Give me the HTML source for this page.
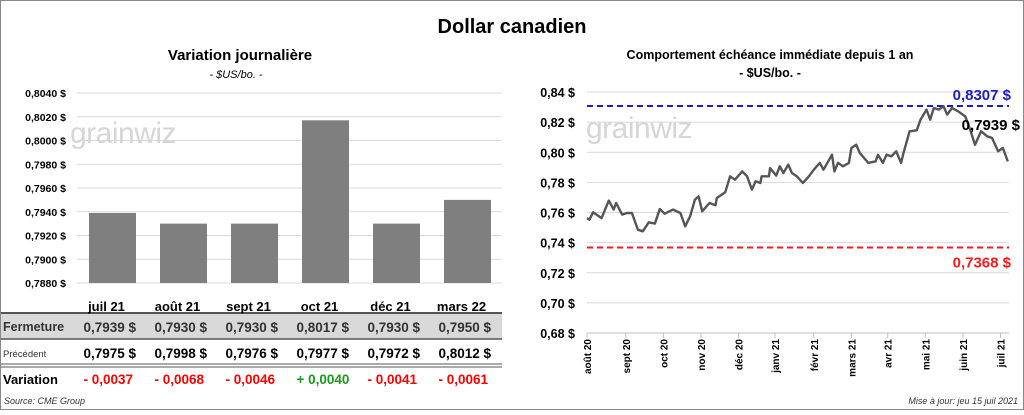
<!DOCTYPE html>
<html><head><meta charset="utf-8">
<style>
html,body{margin:0;padding:0;background:#fff;}
body{width:1024px;height:410px;overflow:hidden;font-family:"Liberation Sans",sans-serif;}
svg text{font-family:"Liberation Sans",sans-serif;}
</style></head>
<body>
<svg id="root" width="1024" height="410" viewBox="0 0 1024 410" xmlns="http://www.w3.org/2000/svg">
<rect x="0.5" y="0.5" width="1023" height="409" fill="#fff" stroke="#888"/>
<text x="512" y="33" text-anchor="middle" font-size="20" font-weight="bold">Dollar canadien</text>
<text x="240" y="60" text-anchor="middle" font-size="15" font-weight="bold">Variation  journalière</text>
<text x="236" y="78" text-anchor="middle" font-size="11" font-style="italic">- $US/bo. -</text>
<text x="770" y="59" text-anchor="middle" font-size="12.5" font-weight="bold">Comportement échéance immédiate depuis 1 an</text>
<text x="770" y="77" text-anchor="middle" font-size="12.5" font-weight="bold">- $US/bo. -</text>
<g id="left"></g>
<g id="table"></g>
<g id="right"></g>
<text x="4" y="404" font-size="9" font-style="italic" fill="#333">Source: CME Group</text>
<text x="1018" y="404" text-anchor="end" font-size="9" font-style="italic" fill="#333">Mise à jour: jeu 15 juil 2021</text>
</svg>
<script>
const NS="http://www.w3.org/2000/svg";
const barCategories=["juil 21","août 21","sept 21","oct 21","déc 21","mars 22"];
const barValues=[0.7939,0.7930,0.7930,0.8017,0.7930,0.7950];
const prevValues=[0.7975,0.7998,0.7976,0.7977,0.7972,0.8012];
const variationLabels=["- 0,0037","- 0,0068","- 0,0046","+ 0,0040","- 0,0041","- 0,0061"];
const barTicks=[0.788,0.790,0.792,0.794,0.796,0.798,0.800,0.802,0.804];
const lineDays=[0,2,5,12,18,22,24,29,33,37,42,46,51,56,60,64,71,77,81,85,89,92,95,101,106,107,114,118,122,128,132,136,139,143,144,150,151,156,159,162,166,169,173,178,183,187,192,195,202,204,207,211,216,218,222,225,232,238,240,244,247,251,255,259,261,266,272,275,280,283,286,290,294,297,301,306,312,316,320,325,330,334,339,343,347];
const lineValues=[0.7563,0.7552,0.7601,0.7563,0.7679,0.7619,0.7663,0.7586,0.7597,0.7597,0.7486,0.7475,0.7535,0.7526,0.7623,0.7592,0.7619,0.7597,0.7508,0.7575,0.7685,0.7707,0.7608,0.7663,0.7648,0.7696,0.7734,0.7840,0.7818,0.7873,0.7840,0.7752,0.7807,0.7796,0.7840,0.7840,0.7895,0.7845,0.7907,0.7862,0.7918,0.7862,0.7840,0.7796,0.7840,0.7884,0.7929,0.7884,0.7984,0.7873,0.7929,0.7907,0.7929,0.8028,0.8050,0.7995,0.7929,0.7940,0.7984,0.7929,0.7984,0.7973,0.8006,0.7929,0.7995,0.8139,0.8146,0.8216,0.8283,0.8216,0.8294,0.8283,0.8305,0.8250,0.8294,0.8272,0.8238,0.8150,0.8050,0.8139,0.8106,0.8095,0.8006,0.8028,0.7939];
const monthLabels=["août 20","sept 20","oct 20","nov 20","déc 20","janv 21","févr 21","mars 21","avr 21","mai 21","juin 21","juil 21"];
const monthDays=[0,32,63,94,125,155,187,218,248,279,310,341];
const lineTicks=[0.68,0.70,0.72,0.74,0.76,0.78,0.80,0.82,0.84];
const highValue=0.8307, lowValue=0.7368, lastValue=0.7939;

function el(tag,attrs,parent,txt){const e=document.createElementNS(NS,tag);for(const k in attrs)e.setAttribute(k,attrs[k]);if(txt!==undefined)e.textContent=txt;parent.appendChild(e);return e;}
const fmt4=v=>v.toFixed(4).replace('.',',');
const fmt2=v=>v.toFixed(2).replace('.',',');

// Bar chart
const L=document.getElementById('left');
const by=v=>283-(v-0.788)/(0.804-0.788)*190;
const bx0=77,bw=71;
barTicks.forEach(t=>{
  const g=el('line',{x1:77,x2:502,y1:by(t),y2:by(t),stroke:'#d9d9d9','stroke-width':1},L);
  
  
  const tx=el('text',{x:66,y:by(t)+4,'text-anchor':'end','font-size':10.5,'font-weight':'bold'},L,fmt4(t)+' $');
  
  
});
const wm=el('text',{x:70,y:143,'font-size':30,fill:'#d6d6d6','letter-spacing':'-0.5'},L,'grainwiz');


barCategories.forEach((c,i)=>{
  const cx=bx0+bw*(i+0.5);
  const r=el('rect',{x:cx-23.5,y:by(barValues[i]),width:47,height:283-by(barValues[i]),fill:'#7f7f7f'},L);
  
  
});

// Table
const T=document.getElementById('table');
el('rect',{x:1,y:313,width:501,height:26,fill:'#d9d9d9'},T);
el('line',{x1:1,x2:502,y1:313,y2:313,stroke:'#555','stroke-width':2},T);
el('line',{x1:1,x2:502,y1:339,y2:339,stroke:'#555','stroke-width':1.5},T);
el('line',{x1:1,x2:502,y1:364,y2:364,stroke:'#555','stroke-width':1},T);
el('line',{x1:1,x2:502,y1:367,y2:367,stroke:'#555','stroke-width':1},T);
const rl1=el('text',{x:3,y:331,'font-size':12.5,'font-weight':'bold',fill:'#333'},T,'Fermeture');


const rl2=el('text',{x:3,y:357,'font-size':9.5,fill:'#333'},T,'Précédent');


const rl3=el('text',{x:3,y:384,'font-size':13,'font-weight':'bold'},T,'Variation');


barCategories.forEach((c,i)=>{
  const cx=bx0+bw*(i+0.5);
  const h=el('text',{x:cx-6,y:311,'text-anchor':'middle','font-size':13,'font-weight':'bold'},T,c);
  
  
  const f=el('text',{x:cx-29,y:332,'font-size':13.5,'font-weight':'bold',fill:'#333'},T,fmt4(barValues[i]));
  
  
  const fs=el('text',{x:cx+16,y:332,'font-size':13.5,'font-weight':'bold',fill:'#333'},T,'$');
  
  
  const p=el('text',{x:cx-29,y:358,'font-size':13.5,'font-weight':'bold'},T,fmt4(prevValues[i]));
  
  
  const ps=el('text',{x:cx+16,y:358,'font-size':13.5,'font-weight':'bold'},T,'$');
  
  
  const lab=variationLabels[i];
  const v=el('text',{x:cx-29,y:384,'font-size':13.5,'font-weight':'bold',fill:lab[0]==='+'?'#1a9a1a':'#ff0000'},T,lab);
  
  
});

// Line chart
const R=document.getElementById('right');
const lx=d=>587+d/348*422;
const ly=v=>92+(0.84-v)/0.16*241;
lineTicks.forEach(t=>{
  const g=el('line',{x1:587,x2:1009,y1:ly(t),y2:ly(t),stroke:'#d9d9d9','stroke-width':1},R);
  
  
  const tx=el('text',{x:575,y:ly(t)+5,'text-anchor':'end','font-size':12.5,'font-weight':'bold'},R,fmt2(t)+' $');
  
  
});
el('line',{x1:587,x2:1009,y1:ly(0.68),y2:ly(0.68),stroke:'#bfbfbf','stroke-width':1},R);
monthLabels.forEach((m,i)=>{
  const x=lx(monthDays[i]);
  el('line',{x1:x,x2:x,y1:ly(0.68),y2:ly(0.68)+5,stroke:'#bfbfbf'},R);
  const t=el('text',{x:0,y:0,transform:`translate(${x+4},${ly(0.68)+6}) rotate(-90)`,'text-anchor':'end','font-size':10,'font-weight':'bold'},R,m);
  
  
});
const wm2=el('text',{x:586,y:138,'font-size':30,fill:'#d6d6d6','letter-spacing':'-0.5'},R,'grainwiz');


const hi=el('line',{x1:587,x2:1009,y1:ly(highValue),y2:ly(highValue),stroke:'#1c1cc8','stroke-width':2,'stroke-dasharray':'6,4'},R);


const lo=el('line',{x1:587,x2:1009,y1:ly(lowValue),y2:ly(lowValue),stroke:'#ff1a1a','stroke-width':2,'stroke-dasharray':'6,4'},R);


const pts=lineDays.map((d,i)=>lx(d).toFixed(1)+','+ly(lineValues[i]).toFixed(1)).join(' ');
const pl=el('polyline',{points:pts,fill:'none',stroke:'#555','stroke-width':2.4,'stroke-linejoin':'round'},R);


const hl=el('text',{x:1011,y:ly(highValue)-6,'text-anchor':'end','font-size':15,'font-weight':'bold',fill:'#1c1cc8'},R,fmt4(highValue)+' $');


const ll=el('text',{x:1011,y:ly(lowValue)+20,'text-anchor':'end','font-size':15,'font-weight':'bold',fill:'#ff1a1a'},R,fmt4(lowValue)+' $');


const cl=el('text',{x:1020,y:130,'text-anchor':'end','font-size':15,'font-weight':'bold'},R,fmt4(lastValue)+' $');


</script>
</body></html>
